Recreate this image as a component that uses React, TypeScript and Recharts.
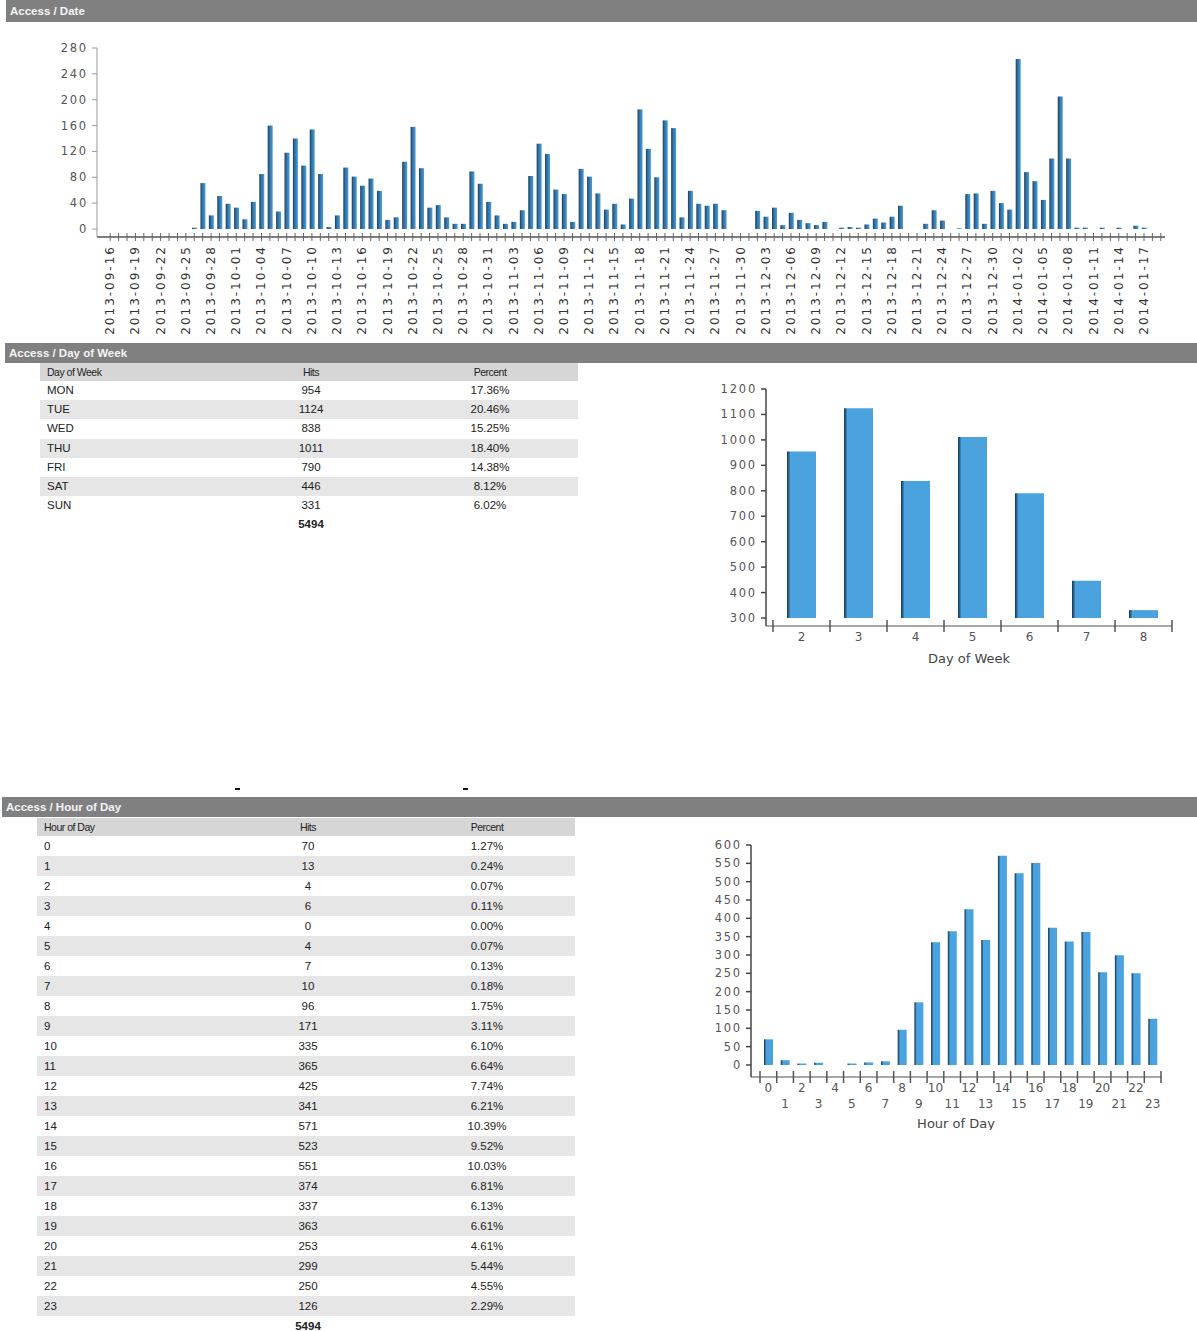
import React from 'react';
import { Bar, BarChart, XAxis, YAxis } from 'recharts';

// daily hits, one value per day starting at startDay
const startDay = '2013-09-16';
const dailyHits = [
  0, 0, 0, 0, 0, 0, 0, 0, 0, 0,
  2, 71, 21, 51, 39, 33, 15, 42, 85, 160,
  27, 118, 140, 98, 154, 85, 3, 21, 95, 81,
  67, 78, 59, 14, 18, 104, 158, 94, 33, 37,
  18, 8, 8, 89, 70, 42, 21, 8, 11, 29,
  82, 132, 116, 61, 54, 11, 93, 81, 55, 30,
  39, 7, 47, 185, 124, 80, 168, 156, 18, 59,
  39, 36, 39, 29, 0, 0, 0, 28, 19, 33,
  6, 25, 14, 9, 6, 11, 0, 2, 3, 2,
  7, 16, 10, 19, 36, 0, 0, 8, 29, 13,
  0, 1, 54, 55, 8, 59, 40, 30, 263, 88,
  74, 45, 109, 205, 109, 2, 2, 0, 2, 0,
  2, 0, 5, 2, 0, 0,
];
const dateTicks = [0, 40, 80, 120, 160, 200, 240, 280];

const dowNames = ['MON', 'TUE', 'WED', 'THU', 'FRI', 'SAT', 'SUN'];
const dowCodes = [2, 3, 4, 5, 6, 7, 8];
const dowHits = [954, 1124, 838, 1011, 790, 446, 331];
const dowPercent = ['17.36%', '20.46%', '15.25%', '18.40%', '14.38%', '8.12%', '6.02%'];
const dowTicks = [300, 400, 500, 600, 700, 800, 900, 1000, 1100, 1200];

const hours = [0, 1, 2, 3, 4, 5, 6, 7, 8, 9, 10, 11, 12, 13, 14, 15, 16, 17, 18, 19, 20, 21, 22, 23];
const hourHits = [70, 13, 4, 6, 0, 4, 7, 10, 96, 171, 335, 365, 425, 341, 571, 523, 551, 374, 337, 363, 253, 299, 250, 126];
const hourPercent = ['1.27%', '0.24%', '0.07%', '0.11%', '0.00%', '0.07%', '0.13%', '0.18%', '1.75%', '3.11%', '6.10%', '6.64%', '7.74%', '6.21%', '10.39%', '9.52%', '10.03%', '6.81%', '6.13%', '6.61%', '4.61%', '5.44%', '4.55%', '2.29%'];
const hourTicks = [0, 50, 100, 150, 200, 250, 300, 350, 400, 450, 500, 550, 600];

const totalHits = 5494;

const buildDates = (start: string, count: number) => {
  const t0 = Date.parse(start + 'T00:00:00Z');
  const out: string[] = [];
  for (let i = 0; i < count; i++) out.push(new Date(t0 + i * 86400000).toISOString().slice(0, 10));
  return out;
};
const dates = buildDates(startDay, dailyHits.length);
const dateData = dates.map((d, i) => ({ date: d, hits: dailyHits[i] }));
const dowData = dowCodes.map((c, i) => ({ day: c, hits: dowHits[i] }));
const hourData = hours.map((h, i) => ({ hour: h, hits: hourHits[i] }));

const font = 'DejaVu Sans, sans-serif';

const YTick = (props: any) => {
  const { x, y, payload } = props;
  return (
    <text x={x} y={y} dy={4} textAnchor="end" fontSize={11.5} fill="#555" fontFamily={font} letterSpacing={1.8}>
      {payload.value}
    </text>
  );
};

const DateTick = (props: any) => {
  const { x, y, index, payload } = props;
  return (
    <g>
      <line x1={x} x2={x} y1={y - 4} y2={y + 4} stroke="#666" strokeWidth={1} />
      {index % 3 === 0 && (
        <text x={x + 4} y={y + 8} transform={`rotate(-90, ${x + 4}, ${y + 8})`} textAnchor="end"
          fontSize={12} fill="#333" fontFamily={font} letterSpacing={2}>
          {payload.value}
        </text>
      )}
    </g>
  );
};

const makeBandTick = (band: number, count: number, twoRows: boolean) => (props: any) => {
  const { x, y, index, payload } = props;
  const left = x - band / 2;
  const right = x + band / 2;
  const ty = twoRows && index % 2 === 1 ? y + 31 : y + 15;
  return (
    <g>
      <line x1={left} x2={left} y1={y - 6} y2={y + 6} stroke="#555" strokeWidth={1.5} />
      {index === count - 1 && <line x1={right} x2={right} y1={y - 6} y2={y + 6} stroke="#555" strokeWidth={1.5} />}
      <text x={x} y={ty} textAnchor="middle" fontSize={12} fill="#555" fontFamily={font}>{payload.value}</text>
    </g>
  );
};

const DowTick = makeBandTick(57, dowCodes.length, false);
const HourTick = makeBandTick(16.7, hours.length, true);

const Header = ({ left, top, height, title }: { left: number; top: number; height: number; title: string }) => (
  <div style={{
    position: 'absolute', left, top, right: 0, height, background: '#808080', color: '#f4f4f4',
    fontFamily: 'Liberation Sans, Arial, sans-serif', fontWeight: 'bold', fontSize: 11.5,
    lineHeight: height + 'px', paddingLeft: 4,
  }}>
    {title}
  </div>
);

const Cell = ({ center, children, bold }: { center: number; children: React.ReactNode; bold?: boolean }) => (
  <span style={{ position: 'absolute', left: center - 50, width: 100, textAlign: 'center', fontWeight: bold ? 'bold' : 'normal' }}>
    {children}
  </span>
);

const StatTable = ({ left, top, rowH, title, labels, hits, pct }:
  { left: number; top: number; rowH: number; title: string; labels: (string | number)[]; hits: number[]; pct: string[] }) => (
  <div style={{ position: 'absolute', left, top, width: 538, fontFamily: 'Liberation Sans, Arial, sans-serif', color: '#222' }}>
    <div style={{ position: 'relative', height: 18, lineHeight: '18px', background: '#d6d6d6', fontSize: 10.5, letterSpacing: -0.5 }}>
      <span style={{ position: 'absolute', left: 7 }}>{title}</span>
      <Cell center={271}>Hits</Cell>
      <Cell center={450}>Percent</Cell>
    </div>
    {labels.map((l, i) => (
      <div key={i} style={{ position: 'relative', height: rowH, lineHeight: rowH + 'px', fontSize: 11.5, background: i % 2 === 1 ? '#e6e6e6' : 'transparent' }}>
        <span style={{ position: 'absolute', left: 7 }}>{l}</span>
        <Cell center={271}>{hits[i]}</Cell>
        <Cell center={450}>{pct[i]}</Cell>
      </div>
    ))}
    <div style={{ position: 'relative', height: rowH, lineHeight: rowH + 'px', fontSize: 11.5 }}>
      <Cell center={271} bold>{totalHits}</Cell>
    </div>
  </div>
);

const App: React.FC = () => {
  return (
    <div style={{ position: 'absolute', left: 0, top: 0, width: 1197, height: 1331, background: '#fff', overflow: 'hidden' }}>
      <Header left={6} top={0} height={22} title="Access / Date" />
      <div style={{ position: 'absolute', left: 0, top: 0 }}>
        <BarChart width={1197} height={340} data={dateData} margin={{ top: 48, right: 32, bottom: 0, left: 0 }}>
          <defs>
            <linearGradient id="dateGrad" x1="0" y1="0" x2="1" y2="0">
              <stop offset="0%" stopColor="#1d3c57" />
              <stop offset="35%" stopColor="#2f6d9e" />
              <stop offset="100%" stopColor="#4a9fd8" />
            </linearGradient>
          </defs>
          <XAxis dataKey="date" interval={0} height={103} padding={{ left: 9, right: 0 }} tickSize={0} tickMargin={0}
            tickLine={false} tick={<DateTick />} stroke="#555" strokeWidth={1.5} />
          <YAxis type="number" domain={[-12.4, 280]} ticks={dateTicks} interval={0} width={97} tickSize={5} tickMargin={4}
            tick={<YTick />} stroke="#999" />
          <Bar dataKey="hits" fill="url(#dateGrad)" barSize={5} isAnimationActive={false} />
        </BarChart>
      </div>

      <Header left={5} top={343} height={20} title="Access / Day of Week" />
      <StatTable left={40} top={363} rowH={19.2} title="Day of Week" labels={dowNames} hits={dowHits} pct={dowPercent} />
      <div style={{ position: 'absolute', left: 690, top: 370 }}>
        <BarChart width={500} height={300} data={dowData} margin={{ top: 19, right: 18, bottom: 0, left: 0 }}>
          <defs>
            <linearGradient id="dowGrad" x1="0" y1="0" x2="1" y2="0">
              <stop offset="0%" stopColor="#1b3348" />
              <stop offset="7%" stopColor="#2d6d9c" />
              <stop offset="12%" stopColor="#4aa3df" />
              <stop offset="100%" stopColor="#4aa3df" />
            </linearGradient>
          </defs>
          <XAxis dataKey="day" interval={0} height={44} padding={{ left: 7, right: 0 }} tickSize={0} tickMargin={0}
            tickLine={false} tick={<DowTick />} stroke="#888" strokeWidth={1.5}
            label={{ value: 'Day of Week', position: 'insideBottom', offset: 7, fill: '#444', fontSize: 13, fontFamily: font }} />
          <YAxis type="number" domain={[268.6, 1200]} ticks={dowTicks} interval={0} width={76} tickSize={5} tickMargin={4}
            tick={<YTick />} stroke="#444" strokeWidth={1.5} />
          <Bar dataKey={(d: any) => [dowTicks[0], d.hits]} fill="url(#dowGrad)" barSize={29} isAnimationActive={false} />
        </BarChart>
      </div>

      <div style={{ position: 'absolute', left: 235, top: 788, width: 5, height: 2, background: '#111' }} />
      <div style={{ position: 'absolute', left: 463, top: 788, width: 5, height: 2, background: '#111' }} />

      <Header left={2} top={797} height={20} title="Access / Hour of Day" />
      <StatTable left={37} top={818} rowH={20} title="Hour of Day" labels={hours} hits={hourHits} pct={hourPercent} />
      <div style={{ position: 'absolute', left: 690, top: 830 }}>
        <BarChart width={490} height={300} data={hourData} margin={{ top: 15, right: 19, bottom: 0, left: 0 }}>
          <defs>
            <linearGradient id="hourGrad" x1="0" y1="0" x2="1" y2="0">
              <stop offset="0%" stopColor="#1b3348" />
              <stop offset="15%" stopColor="#2d6d9c" />
              <stop offset="25%" stopColor="#4aa3df" />
              <stop offset="100%" stopColor="#4aa3df" />
            </linearGradient>
          </defs>
          <XAxis dataKey="hour" interval={0} height={53} padding={{ left: 9, right: 0 }} tickSize={0} tickMargin={0}
            tickLine={false} tick={<HourTick />} stroke="#888" strokeWidth={1.5}
            label={{ value: 'Hour of Day', position: 'insideBottom', offset: 2, fill: '#444', fontSize: 13, fontFamily: font }} />
          <YAxis type="number" domain={[-32.8, 600]} ticks={hourTicks} interval={0} width={61} tickSize={5} tickMargin={4}
            tick={<YTick />} stroke="#444" strokeWidth={1.5} />
          <Bar dataKey="hits" fill="url(#hourGrad)" barSize={9} isAnimationActive={false} />
        </BarChart>
      </div>
    </div>
  );
};

export default App;
